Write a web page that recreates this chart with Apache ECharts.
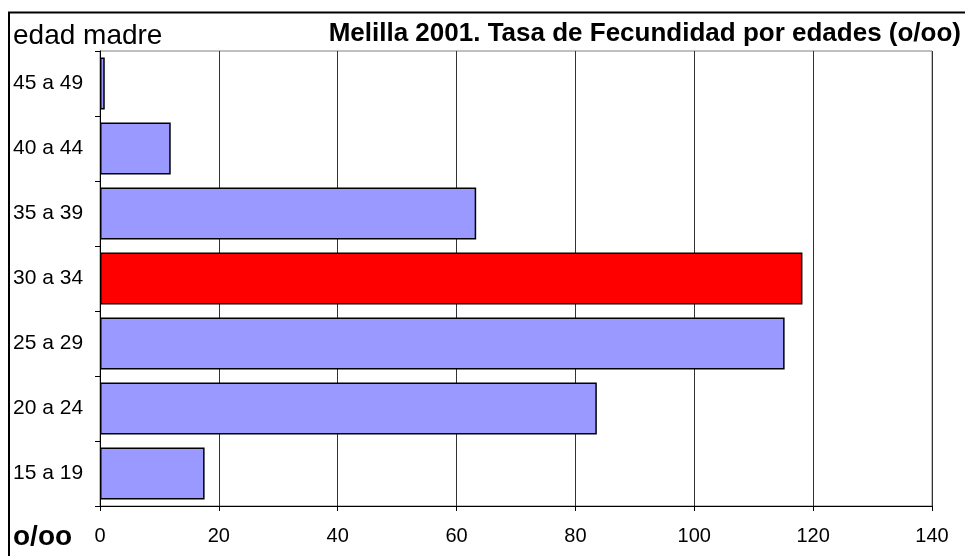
<!DOCTYPE html>
<html>
<head>
<meta charset="utf-8">
<script src="https://cdn.jsdelivr.net/npm/echarts@6/dist/echarts.min.js"></script>
<style>
  html, body { margin: 0; padding: 0; background: #fff; }
  #chart { width: 965px; height: 556px; }
</style>
</head>
<body>
<div id="chart"></div>
<script>
// grupos de edad (de abajo arriba) y tasa por mil
var categories = ['15 a 19', '20 a 24', '25 a 29', '30 a 34', '35 a 39', '40 a 44', '45 a 49'];
var rates = [17.6, 83.6, 115.2, 118.2, 63.3, 11.9, 0.8];
var highlight = '30 a 34';
var xTicks = { min: 0, max: 140, interval: 20 };

var font = 'Liberation Sans, Arial, sans-serif';

var myChart = echarts.init(document.getElementById('chart'));

var option = {
  backgroundColor: '#fff',
  animation: false,
  grid: {
    left: 100,
    top: 51,
    right: 33,
    bottom: 50,
    show: true,
    borderColor: '#808080',
    borderWidth: 1
  },
  xAxis: {
    type: 'value',
    min: xTicks.min,
    max: xTicks.max,
    interval: xTicks.interval,
    axisLine: { show: true, lineStyle: { color: '#000', width: 1 } },
    axisTick: { show: true, length: 5, lineStyle: { color: '#000' } },
    axisLabel: {
      margin: 20,
      fontFamily: font,
      fontSize: 20,
      color: '#000'
    },
    splitLine: { show: true, lineStyle: { color: '#333', width: 1 } }
  },
  yAxis: {
    type: 'category',
    data: categories,
    axisLine: { show: true, lineStyle: { color: '#000', width: 1 } },
    axisTick: { show: true, length: 5, lineStyle: { color: '#000' } },
    axisLabel: {
      align: 'left',
      margin: 87,
      fontFamily: font,
      fontSize: 21,
      color: '#000'
    },
    splitLine: { show: false }
  },
  series: [
    {
      type: 'bar',
      barCategoryGap: '20%',
      data: rates.map(function (v, i) {
        return {
          value: v,
          itemStyle: {
            color: categories[i] === highlight ? '#ff0000' : '#9999ff',
            borderColor: '#000',
            borderWidth: 1.5
          }
        };
      })
    }
  ],
  graphic: [
    {
      type: 'rect',
      shape: { x: 9, y: 12.5, width: 2000, height: 2000 },
      style: { fill: 'none', stroke: '#000', lineWidth: 2 },
      silent: true
    },
    {
      type: 'text',
      left: 13,
      top: 22,
      style: {
        text: 'edad madre',
        fontFamily: font,
        fontSize: 28,
        fill: '#000'
      }
    },
    {
      type: 'text',
      right: 4,
      top: 21,
      style: {
        text: 'Melilla 2001. Tasa de Fecundidad por edades (o/oo)',
        fontFamily: font,
        fontSize: 26,
        fontWeight: 'bold',
        fill: '#000'
      }
    },
    {
      type: 'text',
      left: 13,
      top: 523,
      style: {
        text: 'o/oo',
        fontFamily: font,
        fontSize: 28,
        fontWeight: 'bold',
        fill: '#000'
      }
    }
  ]
};

myChart.setOption(option);
</script>
</body>
</html>
